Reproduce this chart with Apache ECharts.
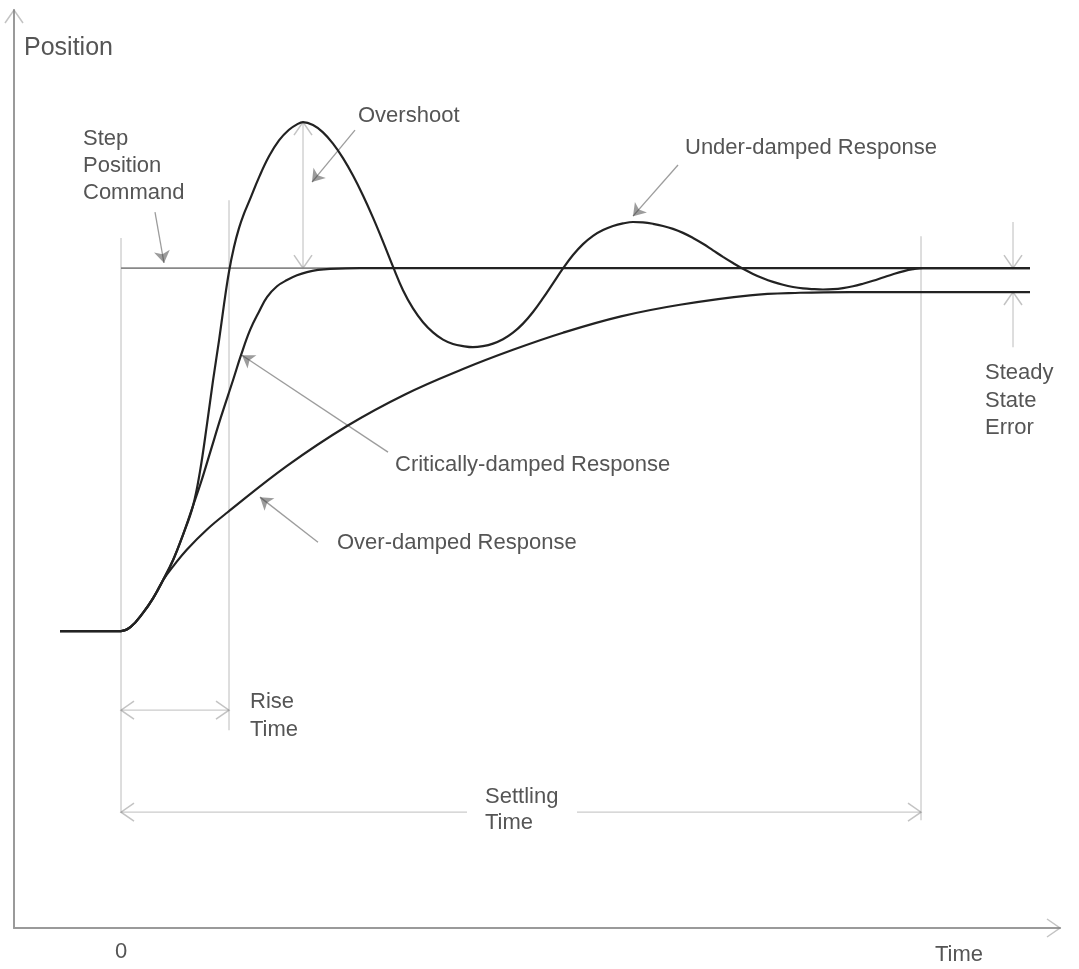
<!DOCTYPE html>
<html><head><meta charset="utf-8">
<script src="https://cdn.jsdelivr.net/npm/echarts@6/dist/echarts.min.js"></script>
<style>html,body{margin:0;padding:0;background:#fff}#c{width:1079px;height:969px}</style>
</head><body><div id="c"></div>
<script>
// ---- data (time units, position units; step command = 1) ----
const underT = [-0.61, 0, 0.1, 0.22, 0.32, 0.42, 0.52, 0.62, 0.72, 0.79, 0.86, 0.92, 0.98, 1.03, 1.08, 1.13, 1.18, 1.23, 1.28, 1.38, 1.48, 1.58, 1.68, 1.76, 1.82, 1.92, 2.02, 2.12, 2.22, 2.32, 2.42, 2.52, 2.62, 2.72, 2.82, 2.92, 3.02, 3.12, 3.22, 3.32, 3.42, 3.52, 3.62, 3.72, 3.82, 3.92, 4.02, 4.12, 4.22, 4.32, 4.42, 4.52, 4.62, 4.72, 4.82, 4.92, 5.02, 5.12, 5.22, 5.32, 5.42, 5.52, 5.62, 5.72, 5.82, 5.92, 6.02, 6.12, 6.22, 6.32, 6.42, 6.52, 6.62, 6.72, 6.82, 6.92, 7.02, 7.12, 7.22, 7.32, 7.42, 7.52, 7.62, 7.72, 7.82, 7.92, 8.02, 9.09];
const underY = [0, 0, 0.012, 0.05, 0.09, 0.14, 0.195, 0.265, 0.345, 0.44, 0.57, 0.69, 0.8, 0.9, 0.99, 1.058, 1.11, 1.15, 1.183, 1.25, 1.308, 1.352, 1.381, 1.396, 1.402, 1.394, 1.374, 1.343, 1.303, 1.255, 1.2, 1.139, 1.073, 1.004, 0.939, 0.889, 0.851, 0.823, 0.803, 0.791, 0.785, 0.782, 0.785, 0.792, 0.804, 0.822, 0.847, 0.879, 0.917, 0.958, 0.999, 1.036, 1.066, 1.089, 1.105, 1.116, 1.123, 1.127, 1.126, 1.122, 1.116, 1.108, 1.097, 1.083, 1.067, 1.049, 1.031, 1.014, 0.998, 0.984, 0.972, 0.962, 0.954, 0.948, 0.944, 0.942, 0.941, 0.942, 0.945, 0.95, 0.957, 0.965, 0.974, 0.983, 0.991, 0.997, 1.0, 1.0];
const critT = [-0.61, 0, 0.1, 0.22, 0.32, 0.42, 0.52, 0.62, 0.72, 0.8, 0.9, 1.0, 1.12, 1.2, 1.29, 1.38, 1.46, 1.56, 1.66, 1.76, 1.86, 1.97, 2.09, 2.39, 9.09];
const critY = [0, 0, 0.012, 0.05, 0.09, 0.14, 0.195, 0.265, 0.345, 0.41, 0.5, 0.59, 0.691, 0.76, 0.829, 0.88, 0.92, 0.95, 0.967, 0.98, 0.989, 0.995, 0.998, 1.0, 1.0];
const overT = [-0.61, 0, 0.1, 0.22, 0.32, 0.42, 0.54, 0.66, 0.86, 1.06, 1.66, 2.26, 2.84, 3.42, 3.92, 4.42, 5.0, 5.59, 6.29, 6.79, 7.29, 9.09];
const overY = [0, 0, 0.012, 0.05, 0.09, 0.14, 0.185, 0.225, 0.28, 0.326, 0.455, 0.565, 0.652, 0.722, 0.775, 0.822, 0.867, 0.899, 0.925, 0.932, 0.934, 0.934];
const stepT = [0, 9.09];
const stepY = [1, 1];
const xTickLabels = [0];

// annotation geometry in data coordinates
const riseTime = 1.08;
const settlingTime = 8.0;
const overshootX = 1.82, overshootPeak = 1.402;
const steadyLevel = 0.934, steadyX = 8.92;
const guideLines = [
  [[0, 1.083], [0, -0.501]],
  [[settlingTime, 1.088], [settlingTime, -0.521]],
  [[riseTime, 1.187], [riseTime, -0.273]]
];
const dimLines = [
  [[0, -0.218], [riseTime, -0.218]],
  [[0, -0.499], [3.46, -0.499]],
  [[4.56, -0.499], [settlingTime, -0.499]],
  [[overshootX, overshootPeak], [overshootX, 1.0]],
  [[steadyX, 1.127], [steadyX, 1.0]],
  [[steadyX, 0.782], [steadyX, steadyLevel]]
];
const pointers = [
  [[0.34, 1.154], [0.43, 1.014]],
  [[2.34, 1.380], [1.91, 1.237]],
  [[5.57, 1.284], [5.12, 1.143]],
  [[2.67, 0.493], [1.21, 0.760]],
  [[1.97, 0.245], [1.39, 0.369]]
];

const X_MIN = -1.07, X_MAX = 9.39, Y_MIN = -0.818, Y_MAX = 1.711;
const GRID = {left: 14, right: 19, top: 10, bottom: 41};
const W = 1079, H = 969;
const pxX = (W - GRID.left - GRID.right) / (X_MAX - X_MIN);
const pxY = (H - GRID.top - GRID.bottom) / (Y_MAX - Y_MIN);

function zip(a, b) { return a.map((v, i) => [v, b[i]]); }
function chevron(tip, dx, dy) {
  const len = Math.hypot(dx, dy), ux = dx / len, uy = dy / len;
  const back = 13, half = 9, nx = -uy, ny = ux;
  const a1 = [tip[0] + (-back * ux + half * nx) / pxX, tip[1] - (-back * uy + half * ny) / pxY];
  const a2 = [tip[0] + (-back * ux - half * nx) / pxX, tip[1] - (-back * uy - half * ny) / pxY];
  return {coords: [a1, tip, a2]};
}
const chevrons = [
  chevron([0, -0.218], -1, 0), chevron([riseTime, -0.218], 1, 0),
  chevron([0, -0.499], -1, 0), chevron([settlingTime, -0.499], 1, 0),
  chevron([overshootX, overshootPeak], 0, -1), chevron([overshootX, 1.0], 0, 1),
  chevron([steadyX, 1.0], 0, 1), chevron([steadyX, steadyLevel], 0, -1),
  chevron([X_MAX, Y_MIN], 1, 0), chevron([X_MIN, Y_MAX], 0, -1)
];

const FONT = 'Liberation Sans, Arial, sans-serif';
const TXT = '#555';
const texts = [
  ['Step', 83, 139], ['Position', 83, 166], ['Command', 83, 193],
  ['Overshoot', 358, 116],
  ['Under-damped Response', 685, 148],
  ['Critically-damped Response', 395, 465],
  ['Over-damped Response', 337, 543],
  ['Rise', 250, 702], ['Time', 250, 730],
  ['Settling', 485, 797], ['Time', 485, 823],
  ['Steady', 985, 373], ['State', 985, 401], ['Error', 985, 428]
];

const chart = echarts.init(document.getElementById('c'), null, {renderer: 'canvas'});
const curveStyle = {color: '#222', width: 2.2};
chart.setOption({
  animation: false,
  backgroundColor: '#fff',
  grid: GRID,
  xAxis: {
    type: 'value', min: X_MIN, max: X_MAX,
    axisLine: {show: true, onZero: false, lineStyle: {color: '#9a9a9a', width: 2}},
    axisTick: {show: false}, splitLine: {show: false},
    axisLabel: {customValues: xTickLabels, formatter: v => (xTickLabels.indexOf(v) >= 0 ? String(v) : ''),
      fontSize: 22, color: TXT, fontFamily: FONT, margin: 13},
    name: 'Time', nameLocation: 'end', nameGap: -125,
    nameTextStyle: {fontSize: 22, color: TXT, fontFamily: FONT, align: 'left', verticalAlign: 'top', padding: [16, 0, 0, 0]}
  },
  yAxis: {
    type: 'value', min: Y_MIN, max: Y_MAX,
    axisLine: {show: true, onZero: false, lineStyle: {color: '#9a9a9a', width: 2}},
    axisTick: {show: false}, splitLine: {show: false}, axisLabel: {show: false},
    name: 'Position', nameLocation: 'end', nameGap: -38,
    nameTextStyle: {fontSize: 25, color: TXT, fontFamily: FONT, align: 'left', verticalAlign: 'middle', padding: [0, 0, 0, 10]}
  },
  series: [
    {type: 'lines', coordinateSystem: 'cartesian2d', polyline: true, clip: false, silent: true,
      lineStyle: {color: '#999', width: 1.3}, data: guideLines.map(c => ({coords: c})), z: 1},
    {type: 'line', data: zip(stepT, stepY), symbol: 'none', lineStyle: {color: '#888', width: 1.6}, z: 2},
    {type: 'lines', coordinateSystem: 'cartesian2d', polyline: true, clip: false, silent: true,
      lineStyle: {color: '#999', width: 1.3}, data: dimLines.map(c => ({coords: c})), z: 3},
    {type: 'lines', coordinateSystem: 'cartesian2d', polyline: true, clip: false, silent: true,
      lineStyle: {color: '#888', width: 1.5}, data: chevrons, z: 3},
    {type: 'lines', coordinateSystem: 'cartesian2d', clip: false, silent: true,
      symbol: ['none', 'arrow'], symbolSize: 12,
      lineStyle: {color: '#3a3a3a', width: 1.3}, data: pointers.map(c => ({coords: c})), z: 4},
    {name: 'Over-damped', type: 'line', data: zip(overT, overY), symbol: 'none', smooth: 0.4, lineStyle: curveStyle, z: 5},
    {name: 'Critically-damped', type: 'line', data: zip(critT, critY), symbol: 'none', smooth: 0.4, lineStyle: curveStyle, z: 5},
    {name: 'Under-damped', type: 'line', data: zip(underT, underY), symbol: 'none', smooth: 0.4, lineStyle: curveStyle, z: 5}
  ],
  graphic: texts.map(t => ({type: 'text', x: t[1], y: t[2], silent: true,
    style: {text: t[0], fill: TXT, font: '22px ' + FONT, verticalAlign: 'middle', align: 'left'}}))
});
</script></body></html>
